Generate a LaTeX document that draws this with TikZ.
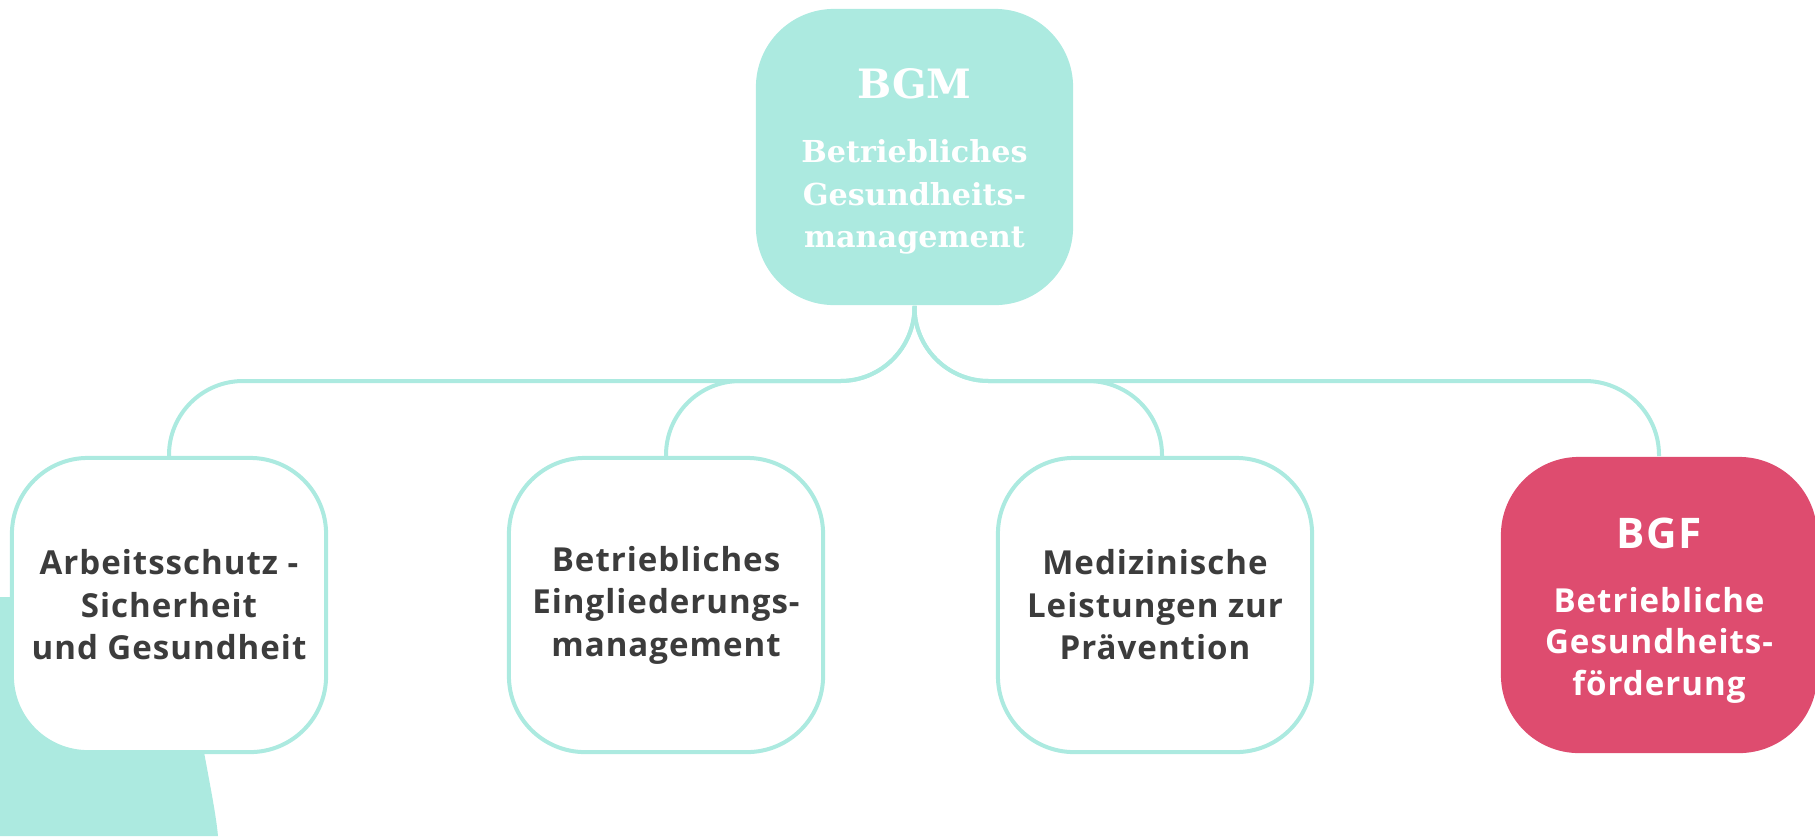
\documentclass[tikz,border=0pt]{standalone}
\usepackage{fontspec}
\usetikzlibrary{backgrounds,calc}
\setmainfont{Open Sans}[LetterSpace=3]
\newfontfamily\slab{DejaVu Serif}
\definecolor{mint}{HTML}{ACEAE0}
\definecolor{rose}{HTML}{DE4C6F}
\definecolor{ink}{HTML}{3C3C3C}
\tikzset{
  outlinebox/.style={draw=mint, line width=0.04cm, fill=white, rounded corners=0.76cm,
    minimum width=3.14cm, minimum height=2.94cm, align=center, text=ink,
    font=\bfseries\fontsize{9.4}{12.1}\selectfont, inner sep=0pt},
  topbox/.style={fill=mint, rounded corners=0.78cm, minimum width=3.17cm, minimum height=2.96cm,
    align=center, text=white, font=\slab\bfseries\fontsize{8.6}{12.1}\selectfont, inner sep=0pt},
  bgfbox/.style={fill=rose, rounded corners=0.78cm, minimum width=3.16cm, minimum height=2.96cm,
    align=center, text=white, font=\bfseries\fontsize{9.4}{11.9}\selectfont, inner sep=0pt},
  conn/.style={draw=mint, line width=0.04cm, rounded corners=0.74cm}
}
\begin{document}
\begin{tikzpicture}[x=0.01cm, y=-0.01cm]
\useasboundingbox (0,0) rectangle (1815,836);
% nodes
\node[topbox] (bgm) at (914.5,157) {\rule{0pt}{11.1pt}{\fontsize{11.5}{11.5}\selectfont BGM}\\[6.2pt]Betriebliches\\Gesundheits-\\management};
\node[outlinebox] (b1) at (169,605) {Arbeitsschutz -\\Sicherheit\\und Gesundheit};
\node[outlinebox] (b2) at (666,605) {Betriebliches\\Eingliederungs-\\management};
\node[outlinebox] (b3) at (1155,605) {Medizinische\\Leistungen zur\\Prävention};
\node[bgfbox] (bgf) at (1659,605) {\rule{0pt}{12pt}{\fontsize{12}{12}\selectfont BGF}\\[6.2pt]Betriebliche\\Gesundheits-\\förderung};
\coordinate (hy) at (0,381);
\begin{scope}[on background layer]
% background blob
\fill[mint] (0,597) .. controls (130,597) and (194,690) .. (204,752)
  .. controls (211,790) and (216,815) .. (218,836) -- (0,836) -- cycle;
% connectors
\draw[conn] (bgm.south) |- (b1.north |- hy) -- (b1.north);
\draw[conn] (bgm.south) |- (b2.north |- hy) -- (b2.north);
\draw[conn] (bgm.south) |- ($(b3.north |- hy)+(7,0)$) -- ($(b3.north)+(7,0)$);
\draw[conn] (bgm.south) |- (bgf.north |- hy) -- (bgf.north);
\end{scope}
\end{tikzpicture}
\end{document}
